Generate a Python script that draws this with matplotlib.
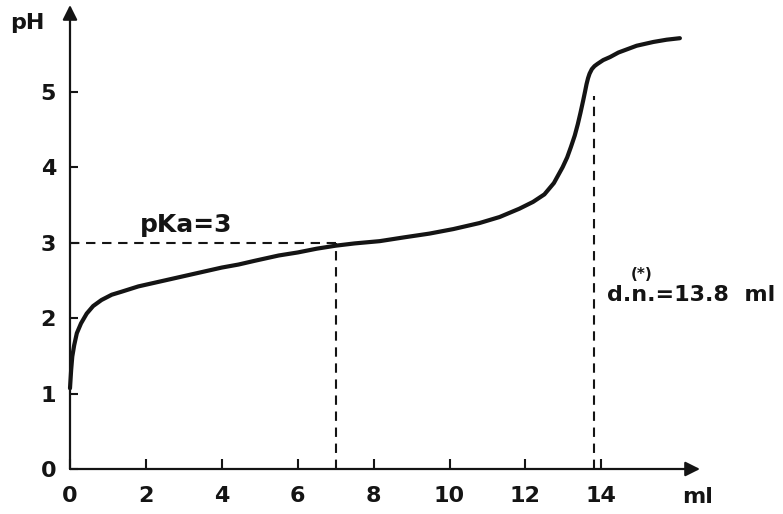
import matplotlib
matplotlib.use("Agg")
import matplotlib.pyplot as plt

# ---- data ----
ml = [0.0, 0.03, 0.06, 0.11, 0.18, 0.29, 0.44, 0.61, 0.83, 1.10, 1.36, 1.80,
      2.24, 2.68, 3.12, 3.56, 4.00, 4.44, 4.87, 5.5, 6.0, 6.5, 7.0, 7.5, 8.16,
      8.8, 9.47, 10.1, 10.79, 11.32, 11.84, 12.2, 12.5, 12.75, 12.98, 13.1,
      13.2, 13.3, 13.38, 13.45, 13.52, 13.57, 13.61, 13.65, 13.69, 13.75, 13.82,
      13.9, 14.05, 14.23, 14.45, 14.93, 15.37, 15.72, 16.07]
ph = [1.07, 1.31, 1.49, 1.64, 1.80, 1.93, 2.06, 2.16, 2.24, 2.31, 2.35, 2.42,
      2.47, 2.52, 2.57, 2.62, 2.67, 2.71, 2.76, 2.83, 2.87, 2.92, 2.96, 2.99, 3.02,
      3.07, 3.12, 3.18, 3.26, 3.34, 3.45, 3.54, 3.64, 3.79, 4.0, 4.13,
      4.27, 4.42, 4.57, 4.72, 4.88, 5.00, 5.10, 5.18, 5.24, 5.30, 5.34,
      5.37, 5.42, 5.46, 5.52, 5.61, 5.66, 5.69, 5.71]
x_ticks = [0, 2, 4, 6, 8, 10, 12, 14]
y_ticks = [0, 1, 2, 3, 4, 5]
pka = 3
half_vol = 7
eq_vol = 13.8
eq_top = 4.95
x_max = 16.6
y_max = 6.15

W, H = 783, 514
ink = "#141414"
plt.rcParams['font.family'] = ['DejaVu Sans']

fig = plt.figure(figsize=(W / 100, H / 100), dpi=100)
fig.patch.set_facecolor("white")
ax = fig.add_axes([70 / W, 45 / H, 630 / W, 464 / H])
ax.set_xlim(0, x_max)
ax.set_ylim(0, y_max)
for s in ax.spines.values():
    s.set_visible(False)

# axes with arrows
arr = dict(arrowstyle='-|>', lw=1.6, color=ink, mutation_scale=22,
           shrinkA=0, shrinkB=0)
ax.annotate("", xy=(1, 0), xytext=(0, 0), xycoords='axes fraction',
            textcoords='axes fraction', arrowprops=arr, annotation_clip=False)
ax.annotate("", xy=(0, 1), xytext=(0, 0), xycoords='axes fraction',
            textcoords='axes fraction', arrowprops=arr, annotation_clip=False)

ax.set_xticks(x_ticks)
ax.set_yticks(y_ticks)
ax.tick_params(axis='x', direction='in', length=7, width=1.5, color=ink,
               pad=12, labelsize=16, labelcolor=ink)
ax.tick_params(axis='y', direction='in', length=5.5, width=1.5, color=ink,
               pad=10, labelsize=16, labelcolor=ink)
for lab in ax.get_xticklabels() + ax.get_yticklabels():
    lab.set_fontweight('bold')

# curve
ax.plot(ml, ph, color=ink, lw=3.0, solid_joinstyle='round',
        solid_capstyle='round', clip_on=False, zorder=3)

# dashed guide lines
dash = dict(color=ink, lw=1.5, dashes=(4.5, 3.2), zorder=2)
ax.plot([0, half_vol], [pka, pka], **dash)
ax.plot([half_vol, half_vol], [0, pka], **dash)
ax.plot([eq_vol, eq_vol], [0, eq_top], **dash)

# texts
def ftext(px, py, s, size=16, ha='left', va='baseline'):
    fig.text(px / W, 1 - py / H, s, fontsize=size, fontweight='bold',
             color=ink, ha=ha, va=va)

ftext(10, 29, "pH")
ftext(682, 503, "ml")
ftext(140, 232, "pKa=3", size=18)
ftext(607, 301, "d.n.=13.8  ml", size=16)
ftext(642, 279, "(*)", size=11, ha='center')

fig.savefig("out.png", dpi=100, facecolor="white")
